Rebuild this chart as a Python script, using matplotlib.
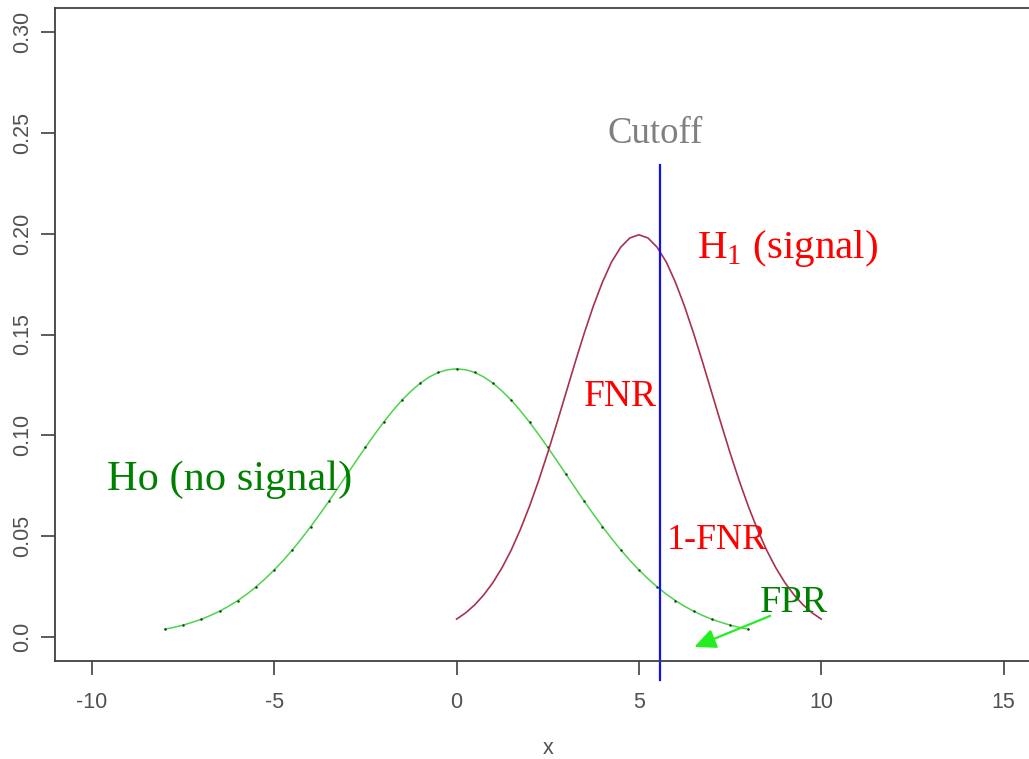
import matplotlib
matplotlib.use("Agg")
import matplotlib.pyplot as plt

# values
h0_x = [-8, -7.75, -7.5, -7.25, -7, -6.75, -6.5, -6.25, -6, -5.75, -5.5, -5.25, -5,
        -4.75, -4.5, -4.25, -4, -3.75, -3.5, -3.25, -3, -2.75, -2.5, -2.25, -2,
        -1.75, -1.5, -1.25, -1, -0.75, -0.5, -0.25, 0, 0.25, 0.5, 0.75, 1, 1.25,
        1.5, 1.75, 2, 2.25, 2.5, 2.75, 3, 3.25, 3.5, 3.75, 4, 4.25, 4.5, 4.75, 5,
        5.25, 5.5, 5.75, 6, 6.25, 6.5, 6.75, 7, 7.25, 7.5, 7.75, 8]
h0_y = [0.0038, 0.0047, 0.0058, 0.0072, 0.0087, 0.0106, 0.0127, 0.0152, 0.0180,
        0.0212, 0.0248, 0.0288, 0.0332, 0.0380, 0.0432, 0.0488, 0.0547, 0.0609,
        0.0673, 0.0740, 0.0807, 0.0874, 0.0940, 0.1004, 0.1065, 0.1122, 0.1174,
        0.1219, 0.1258, 0.1289, 0.1312, 0.1325, 0.1330, 0.1325, 0.1312, 0.1289,
        0.1258, 0.1219, 0.1174, 0.1122, 0.1065, 0.1004, 0.0940, 0.0874, 0.0807,
        0.0740, 0.0673, 0.0609, 0.0547, 0.0488, 0.0432, 0.0380, 0.0332, 0.0288,
        0.0248, 0.0212, 0.0180, 0.0152, 0.0127, 0.0106, 0.0087, 0.0072, 0.0058,
        0.0047, 0.0038]
h1_x = [0, 0.25, 0.5, 0.75, 1, 1.25, 1.5, 1.75, 2, 2.25, 2.5, 2.75, 3, 3.25, 3.5,
        3.75, 4, 4.25, 4.5, 4.75, 5, 5.25, 5.5, 5.75, 6, 6.25, 6.5, 6.75, 7, 7.25,
        7.5, 7.75, 8, 8.25, 8.5, 8.75, 9, 9.25, 9.5, 9.75, 10]
h1_y = [0.0088, 0.0119, 0.0159, 0.0209, 0.0270, 0.0344, 0.0431, 0.0533, 0.0648,
        0.0775, 0.0913, 0.1060, 0.1210, 0.1361, 0.1506, 0.1641, 0.1760, 0.1860,
        0.1933, 0.1979, 0.1995, 0.1979, 0.1933, 0.1860, 0.1760, 0.1641, 0.1506,
        0.1361, 0.1210, 0.1060, 0.0913, 0.0775, 0.0648, 0.0533, 0.0431, 0.0344,
        0.0270, 0.0209, 0.0159, 0.0119, 0.0088]
cutoff = 5.57
x_ticks = [-10, -5, 0, 5, 10, 15]
y_ticks = [0.0, 0.05, 0.10, 0.15, 0.20, 0.25, 0.30]
y_labels = ["0.0", "0.05", "0.10", "0.15", "0.20", "0.25", "0.30"]

plt.rcParams['mathtext.fontset'] = 'custom'
plt.rcParams['mathtext.rm'] = 'Liberation Serif'
plt.rcParams['axes.unicode_minus'] = False

fig = plt.figure(figsize=(10.29, 7.59), dpi=100)
ax = fig.add_axes([0.0539, 0.1291, 0.9568, 0.8603])

ax.plot(h0_x, h0_y, color="#4cd44c", lw=1.1)
ax.plot(h0_x, h0_y, ls='none', marker='.', ms=1.6, markevery=2,
        mfc="#1a3a1a", mec="#1a3a1a")
ax.plot(h1_x, h1_y, color="#a8324e", lw=1.2)
ax.plot([cutoff, cutoff], [0.234, -0.0215], color="#1010ff", lw=1.6, clip_on=False)

ax.set_xlim(-11, 16)
ax.set_ylim(-0.012, 0.312)
ax.set_xticks(x_ticks)
ax.set_yticks(y_ticks)
ax.set_yticklabels(y_labels, rotation=90, va='center')
ax.tick_params(direction='out', length=10, width=1.2, colors="#404040",
               labelcolor="#505050", labelsize=15.5)
ax.tick_params(axis='x', pad=12)
ax.tick_params(axis='y', pad=6)
for lab in ax.get_xticklabels() + ax.get_yticklabels():
    lab.set_family('Liberation Sans')
for sp in ax.spines.values():
    sp.set_color("#404040")
    sp.set_linewidth(1.3)
ax.set_xlabel("x", family='Liberation Sans', fontsize=15.5, color="#505050", labelpad=18)

serif = 'Liberation Serif'
ax.text(5.46, 0.2495, "Cutoff", family=serif, fontsize=26.5, color="#808080",
        ha='center', va='center')
ax.text(6.58, 0.1928, r"H$_{\mathregular{1}}$ (signal)", family=serif, fontsize=29.5,
        color="#ff0000", ha='left', va='center')
ax.text(-9.6, 0.078, "Ho (no signal)", family=serif, fontsize=30.5, color="#008000",
        ha='left', va='center')
ax.text(3.49, 0.119, "FNR", family=serif, fontsize=27, color="#ff0000",
        ha='left', va='center')
ax.text(5.76, 0.0476, "1-FNR", family=serif, fontsize=26, color="#ff0000",
        ha='left', va='center')
ax.text(8.31, 0.0168, "FPR", family=serif, fontsize=27.5, color="#008000",
        ha='left', va='center')
ax.annotate("", xy=(6.45, -0.0055), xytext=(8.67, 0.0109),
            arrowprops=dict(arrowstyle="-|>,head_length=1.3,head_width=0.6",
                            color="#22ee22", lw=1.6))

fig.savefig("out.png", dpi=100)
